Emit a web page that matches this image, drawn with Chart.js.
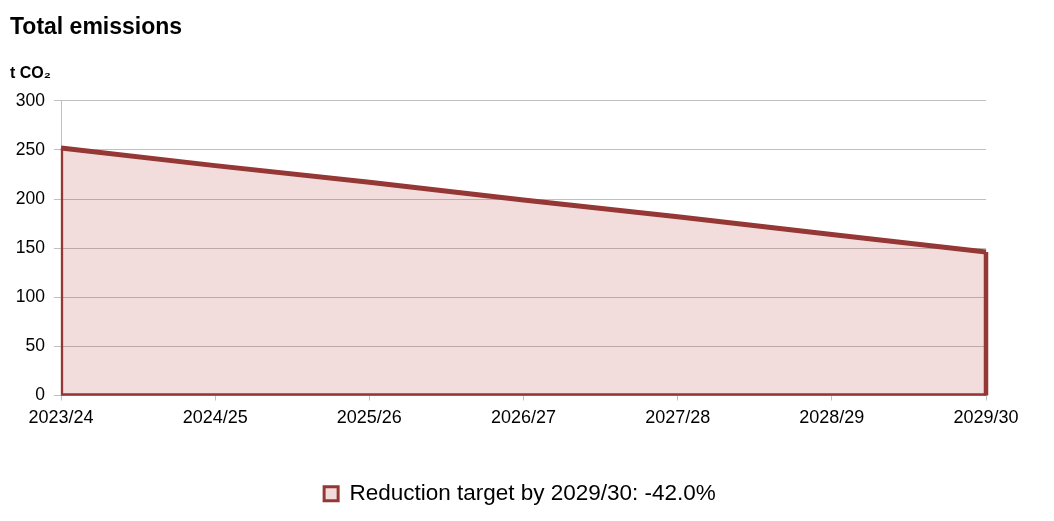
<!DOCTYPE html>
<html>
<head>
<meta charset="utf-8">
<script src="https://cdn.jsdelivr.net/npm/chart.js@4/dist/chart.umd.min.js"></script>
<style>
    html, body { margin: 0; padding: 0; background: #fff; }
    #wrap { width: 1054px; height: 521px; }
</style>
</head>
<body>
<div id="wrap"><canvas id="emissions" width="1054" height="521"></canvas></div>
<script>
const years = ['2023/24', '2024/25', '2025/26', '2026/27', '2027/28', '2028/29', '2029/30'];
const emissions = [252, 234, 217, 199, 182, 164, 146];
const seriesLabel = 'Reduction target by 2029/30: -42.0%';
const yTicks = [0, 50, 100, 150, 200, 250, 300];

const lineColor = '#953735';
const fillColor = 'rgba(190, 80, 80, 0.2)';
const gridColor = '#c0c0c0';
const fontFamily = '"Liberation Sans", Arial, sans-serif';

// closes the filled area with left, bottom and right edges
const closeArea = {
    id: 'closeArea',
    afterDatasetsDraw(chart) {
        const pts = chart.getDatasetMeta(0).data;
        const y0 = chart.scales.y.getPixelForValue(0);
        const first = pts[0];
        const last = pts[pts.length - 1];
        const ctx = chart.ctx;
        ctx.save();
        ctx.strokeStyle = lineColor;
        ctx.lineJoin = 'miter';
        ctx.lineWidth = 2.3;
        ctx.beginPath();
        ctx.moveTo(first.x + 1, first.y);
        ctx.lineTo(first.x + 1, y0 - 1);
        ctx.lineTo(last.x, y0 - 1);
        ctx.stroke();
        ctx.lineWidth = 4.5;
        ctx.beginPath();
        ctx.moveTo(last.x, y0);
        ctx.lineTo(last.x, last.y);
        ctx.stroke();
        ctx.restore();
    }
};

const ctx = document.getElementById('emissions').getContext('2d');
new Chart(ctx, {
    type: 'line',
    data: {
        labels: years,
        datasets: [{
            label: seriesLabel,
            data: emissions,
            borderColor: lineColor,
            backgroundColor: fillColor,
            borderWidth: 5,
            fill: 'origin',
            pointRadius: 0,
            tension: 0
        }]
    },
    options: {
        responsive: false,
        animation: false,
        layout: {
            padding: { left: 10, right: 24, top: 0, bottom: 6 }
        },
        plugins: {
            title: {
                display: true,
                text: 'Total emissions',
                align: 'start',
                color: '#000',
                font: { family: fontFamily, size: 23, weight: 'bold' },
                padding: { top: 14, bottom: 0 }
            },
            subtitle: {
                display: true,
                text: 't CO\u2082',
                align: 'start',
                color: '#000',
                font: { family: fontFamily, size: 16, weight: 'bold' },
                padding: { top: 22, bottom: 18 }
            },
            legend: {
                position: 'bottom',
                labels: {
                    color: '#000',
                    font: { family: fontFamily, size: 22.5 },
                    boxWidth: 14,
                    boxHeight: 14,
                    padding: 10,
                    generateLabels(chart) {
                        const items = Chart.defaults.plugins.legend.labels.generateLabels(chart);
                        items.forEach(it => {
                            it.fillStyle = '#f2dcdb';
                            it.strokeStyle = lineColor;
                            it.lineWidth = 3;
                        });
                        return items;
                    }
                }
            },
            tooltip: { enabled: false }
        },
        scales: {
            x: {
                offset: false,
                grid: {
                    drawOnChartArea: false,
                    drawTicks: true,
                    tickLength: 5,
                    color: gridColor
                },
                border: { display: true, color: gridColor },
                ticks: {
                    color: '#000',
                    font: { family: fontFamily, size: 18 },
                    padding: 7,
                    maxRotation: 0,
                    autoSkip: false
                },
                afterFit(axis) {
                    axis.height = 77;
                }
            },
            y: {
                min: 0,
                max: 300,
                afterBuildTicks(axis) {
                    axis.ticks = yTicks.map(v => ({ value: v }));
                },
                grid: {
                    color: gridColor,
                    tickLength: 7
                },
                border: { display: true, color: gridColor },
                ticks: {
                    color: '#000',
                    font: { family: fontFamily, size: 17.5 },
                    padding: 9
                },
                afterFit(axis) {
                    axis.width = 51;
                }
            },
            // empty right gutter so the legend centres like the original
            gutter: {
                position: 'right',
                grid: { display: false },
                border: { display: false },
                ticks: { display: false },
                afterFit(axis) {
                    axis.width = 44;
                }
            }
        }
    },
    plugins: [closeArea]
});
</script>
</body>
</html>
